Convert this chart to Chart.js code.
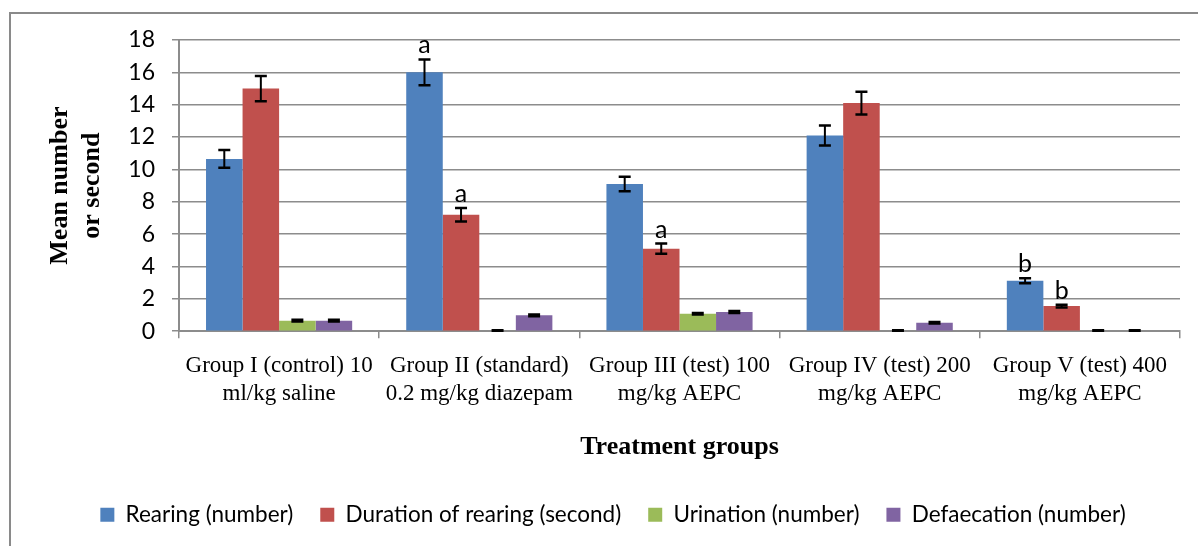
<!DOCTYPE html>
<html>
<head>
<meta charset="utf-8">
<script src="https://cdn.jsdelivr.net/npm/chart.js@4/dist/chart.umd.min.js"></script>
<style>
  html, body { margin: 0; padding: 0; background: #fff; overflow: hidden; }
  #wrap { position: relative; width: 1198px; height: 546px; }
  #frame { position: absolute; left: 9px; top: 12px; width: 1400px; height: 700px;
           border: 2px solid #8a8a8a; box-sizing: border-box; }
  canvas { position: absolute; left: 0; top: 0; }
</style>
</head>
<body>
<div id="wrap">
  <div id="frame"></div>
  <canvas id="chart" width="1198" height="546"></canvas>
</div>
<script>
// Treatment groups (two-line category labels)
const categories = [
  ['Group I (control) 10', 'ml/kg saline'],
  ['Group II (standard)', '0.2 mg/kg diazepam'],
  ['Group III (test) 100', 'mg/kg AEPC'],
  ['Group IV (test) 200', 'mg/kg AEPC'],
  ['Group V (test) 400', 'mg/kg AEPC']
];

const seriesNames = ['Rearing (number)', 'Duration of rearing (second)', 'Urination (number)', 'Defaecation (number)'];

// Means
const rearing     = [10.65, 16.0, 9.1, 12.1, 3.12];
const duration    = [15.0, 7.2, 5.1, 14.1, 1.55];
const urination   = [0.65, 0.04, 1.08, 0.04, 0.04];
const defaecation = [0.65, 0.98, 1.18, 0.52, 0.04];

// Standard errors
const rearingErr     = [0.55, 0.8, 0.45, 0.62, 0.15];
const durationErr    = [0.78, 0.42, 0.32, 0.7, 0.08];
const urinationErr   = [0.05, 0.02, 0.05, 0.02, 0.02];
const defaecationErr = [0.05, 0.05, 0.06, 0.05, 0.02];

// Significance letters
const rearingSig     = ['', 'a', '', '', 'b'];
const durationSig    = ['', 'a', 'a', '', 'b'];
const urinationSig   = ['', '', '', '', ''];
const defaecationSig = ['', '', '', '', ''];

const yTicks = [0, 2, 4, 6, 8, 10, 12, 14, 16, 18];

const colors = ['#4F81BD', '#C0504D', '#9BBB59', '#8064A2'];
const values = [rearing, duration, urination, defaecation];
const errors = [rearingErr, durationErr, urinationErr, defaecationErr];
const sigs = [rearingSig, durationSig, urinationSig, defaecationSig];

const GRID = '#8c8c8c';

// Draws mean ± SE whiskers and the significance letter above each bar
const errorBarPlugin = {
  id: 'errorBars',
  afterDatasetsDraw(chart) {
    const ctx = chart.ctx;
    const y = chart.scales.y;
    chart.data.datasets.forEach((ds, di) => {
      const meta = chart.getDatasetMeta(di);
      meta.data.forEach((bar, i) => {
        const v = ds.data[i];
        const e = ds.errors[i];
        const top = y.getPixelForValue(v + e);
        const bot = y.getPixelForValue(v - e);
        const x = bar.x;
        ctx.save();
        ctx.strokeStyle = '#000';
        ctx.lineWidth = 2;
        ctx.beginPath();
        ctx.moveTo(x, top); ctx.lineTo(x, bot);
        ctx.stroke();
        ctx.lineWidth = 2.5;
        ctx.beginPath();
        ctx.moveTo(x - 6, top); ctx.lineTo(x + 6, top);
        ctx.moveTo(x - 6, bot); ctx.lineTo(x + 6, bot);
        ctx.stroke();
        const s = ds.sig[i];
        if (s) {
          ctx.fillStyle = '#000';
          ctx.font = '25px Lato';
          ctx.textAlign = 'center';
          ctx.textBaseline = 'alphabetic';
          ctx.fillText(s, x, top - 6);
        }
        ctx.restore();
      });
    });
  }
};

// Nudges the legend row so it sits centred under the plot area
const legendShift = {
  id: 'legendShift',
  afterLayout(chart) {
    const lg = chart.legend;
    if (lg) { lg.left += 18; lg.right += 18; }
  }
};

new Chart(document.getElementById('chart'), {
  type: 'bar',
  data: {
    labels: categories,
    datasets: seriesNames.map((name, i) => ({
      label: name,
      data: values[i],
      errors: errors[i],
      sig: sigs[i],
      backgroundColor: colors[i],
      borderWidth: 0,
      categoryPercentage: 0.73,
      barPercentage: 1.0
    }))
  },
  options: {
    responsive: false,
    animation: false,
    layout: { padding: { left: 10, top: 40, right: 18, bottom: 10 } },
    plugins: {
      tooltip: { enabled: false },
      legend: {
        position: 'bottom',
        labels: {
          color: '#000',
          font: { family: 'Lato', size: 22.5 },
          boxWidth: 14,
          boxHeight: 14,
          padding: 27
        }
      }
    },
    scales: {
      x: {
        grid: {
          offset: true,
          drawOnChartArea: false,
          drawTicks: true,
          tickLength: 7,
          color: GRID,
          lineWidth: 1.5
        },
        border: { display: true, color: GRID, width: 2 },
        ticks: {
          color: '#000',
          font: { family: 'Liberation Serif', size: 23, lineHeight: 1.22 },
          padding: 14,
          maxRotation: 0,
          autoSkip: false
        },
        title: {
          display: true,
          text: 'Treatment groups',
          color: '#000',
          font: { family: 'Liberation Serif', size: 26, weight: 'bold' },
          padding: { top: 9, bottom: 14 }
        }
      },
      y: {
        min: 0,
        max: 18,
        afterBuildTicks(scale) { scale.ticks = yTicks.map(v => ({ value: v })); },
        afterFit(scale) { scale.width = 169; },
        grid: {
          color: GRID,
          lineWidth: 1.5,
          drawTicks: true,
          tickLength: 7
        },
        border: { display: true, color: GRID, width: 2 },
        ticks: {
          color: '#000',
          font: { family: 'Lato', size: 23 },
          padding: 17
        },
        title: {
          display: true,
          text: ['Mean number', 'or second'],
          color: '#000',
          font: { family: 'Liberation Serif', size: 26, weight: 'bold', lineHeight: 1.2 },
          padding: { top: 35, bottom: 0 }
        }
      }
    }
  },
  plugins: [errorBarPlugin, legendShift]
});
</script>
</body>
</html>
